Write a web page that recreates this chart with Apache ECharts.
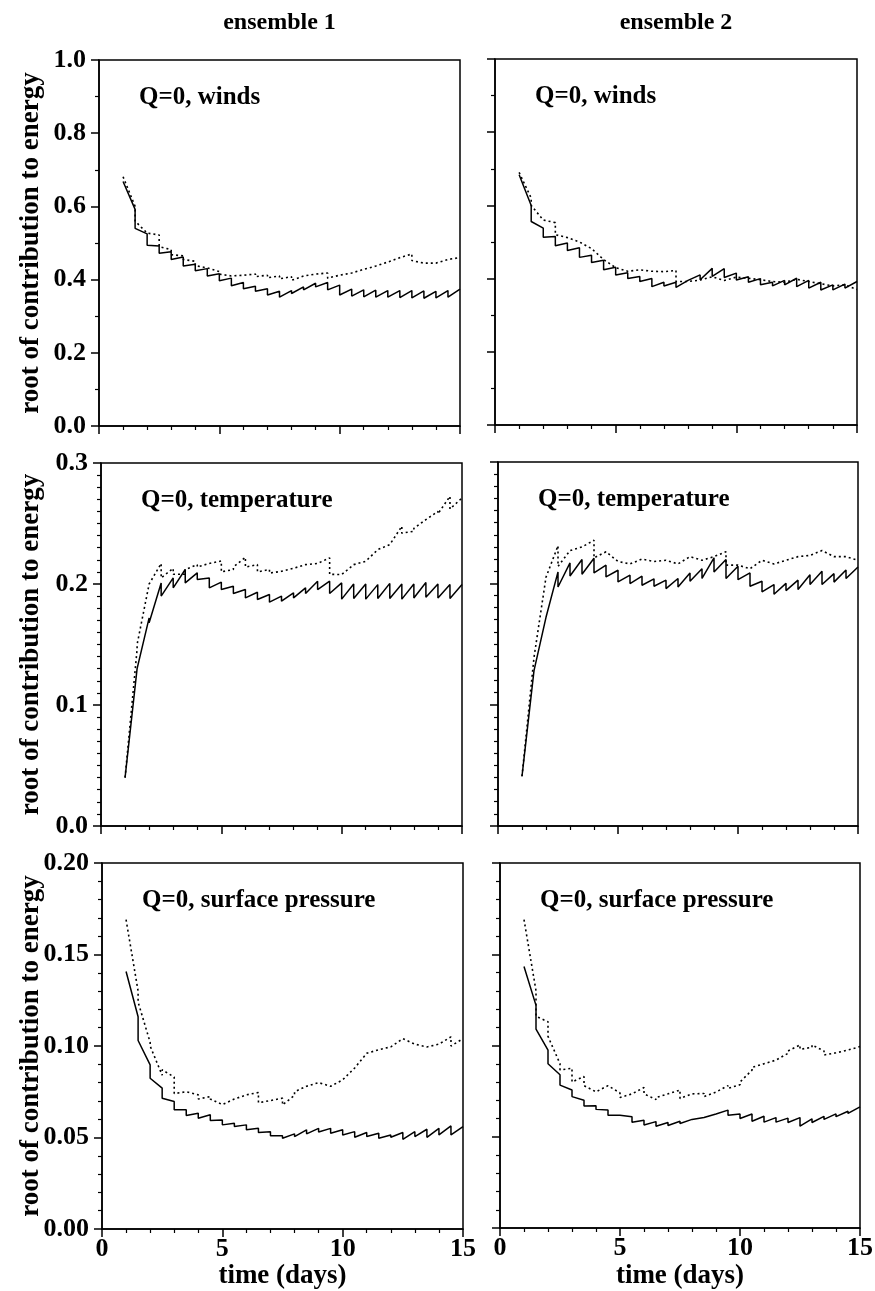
<!DOCTYPE html>
<html><head><meta charset="utf-8">
<script src="https://cdn.jsdelivr.net/npm/echarts@6/dist/echarts.min.js"></script>
<style>html,body{margin:0;padding:0;background:#fff}#c{width:875px;height:1291px}</style>
</head><body><div id="c"></div>
<script>
// half-day segments (start / end day); each curve rises/falls within a segment and jumps at its end
const segStart = [1,1.5,2,2.5,3,3.5,4,4.5,5,5.5,6,6.5,7,7.5,8,8.5,9,9.5,10,10.5,11,11.5,12,12.5,13,13.5,14,14.5];
const segEnd   = [1.5,2,2.5,3,3.5,4,4.5,5,5.5,6,6.5,7,7.5,8,8.5,9,9.5,10,10.5,11,11.5,12,12.5,13,13.5,14,14.5,15];

// Q=0, winds — ensemble 1
const w1SolidS = [0.668,0.540,0.494,0.472,0.455,0.437,0.424,0.410,0.397,0.383,0.375,0.368,0.358,0.352,0.362,0.372,0.380,0.372,0.358,0.355,0.353,0.352,0.352,0.351,0.350,0.349,0.350,0.352];
const w1SolidE = [0.592,0.525,0.492,0.476,0.462,0.442,0.430,0.416,0.404,0.392,0.382,0.375,0.368,0.370,0.380,0.390,0.392,0.385,0.374,0.372,0.371,0.370,0.370,0.370,0.369,0.368,0.370,0.374];
const w1DotS   = [0.681,0.560,0.526,0.490,0.468,0.455,0.438,0.428,0.415,0.405,0.410,0.408,0.405,0.402,0.398,0.405,0.410,0.404,0.410,0.418,0.430,0.438,0.450,0.462,0.452,0.440,0.443,0.450];
const w1DotE   = [0.600,0.527,0.522,0.482,0.465,0.450,0.432,0.422,0.410,0.412,0.415,0.412,0.410,0.408,0.410,0.415,0.418,0.412,0.418,0.428,0.437,0.448,0.460,0.470,0.445,0.445,0.455,0.460];
// Q=0, winds — ensemble 2
const w2SolidS = [0.684,0.556,0.513,0.490,0.477,0.458,0.444,0.424,0.410,0.400,0.392,0.378,0.380,0.376,0.392,0.397,0.406,0.403,0.396,0.390,0.383,0.380,0.383,0.378,0.374,0.369,0.369,0.374];
const w2SolidE = [0.600,0.538,0.515,0.497,0.484,0.464,0.450,0.431,0.416,0.406,0.400,0.390,0.390,0.395,0.410,0.428,0.427,0.415,0.405,0.400,0.390,0.395,0.401,0.395,0.390,0.383,0.385,0.392];
const w2DotS   = [0.690,0.600,0.560,0.520,0.510,0.499,0.479,0.447,0.428,0.419,0.424,0.418,0.419,0.392,0.392,0.396,0.406,0.392,0.406,0.401,0.397,0.392,0.388,0.398,0.390,0.385,0.380,0.382];
const w2DotE   = [0.620,0.560,0.553,0.512,0.500,0.482,0.452,0.430,0.420,0.424,0.420,0.419,0.422,0.392,0.396,0.405,0.395,0.404,0.401,0.397,0.392,0.390,0.398,0.392,0.386,0.380,0.383,0.370];

// Q=0, temperature — ensemble 1
const t1SolidS = [0.040,0.130,0.168,0.190,0.1968,0.2009,0.2037,0.1968,0.1954,0.1921,0.1885,0.1872,0.185,0.1858,0.1885,0.1921,0.1954,0.1921,0.1875,0.188,0.1875,0.188,0.188,0.1875,0.1885,0.189,0.1885,0.188];
const t1SolidE = [0.130,0.172,0.2009,0.205,0.212,0.2092,0.205,0.2015,0.1982,0.1954,0.1932,0.1913,0.190,0.1927,0.1968,0.2023,0.2023,0.2009,0.200,0.200,0.1995,0.2005,0.200,0.200,0.2012,0.200,0.1995,0.1995];
const t1DotS   = [0.040,0.150,0.200,0.205,0.208,0.212,0.214,0.216,0.210,0.214,0.214,0.210,0.209,0.210,0.212,0.215,0.216,0.208,0.208,0.215,0.220,0.228,0.234,0.242,0.246,0.252,0.258,0.262];
const t1DotE   = [0.146,0.200,0.217,0.213,0.208,0.216,0.217,0.219,0.212,0.222,0.216,0.212,0.2105,0.213,0.216,0.217,0.2216,0.2078,0.216,0.2188,0.2284,0.2326,0.2477,0.2436,0.2532,0.260,0.2725,0.2711];
// Q=0, temperature — ensemble 2
const t2SolidS = [0.041,0.128,0.172,0.197,0.206,0.2075,0.2086,0.2053,0.2012,0.1998,0.1984,0.1976,0.1957,0.197,0.2017,0.204,0.2094,0.204,0.203,0.1976,0.193,0.191,0.194,0.195,0.199,0.199,0.201,0.204];
const t2SolidE = [0.128,0.172,0.2094,0.2168,0.2196,0.2207,0.215,0.2108,0.2067,0.2059,0.2037,0.2026,0.204,0.2086,0.212,0.221,0.2196,0.2141,0.2086,0.2017,0.199,0.200,0.2026,0.207,0.210,0.208,0.211,0.2135];
const t2DotS   = [0.041,0.139,0.205,0.214,0.227,0.230,0.221,0.226,0.218,0.216,0.220,0.218,0.219,0.216,0.222,0.219,0.222,0.215,0.215,0.212,0.219,0.216,0.219,0.222,0.223,0.227,0.222,0.222];
const t2DotE   = [0.139,0.205,0.231,0.227,0.230,0.2355,0.226,0.218,0.216,0.220,0.218,0.219,0.216,0.222,0.219,0.222,0.226,0.215,0.212,0.219,0.216,0.219,0.222,0.223,0.227,0.222,0.222,0.219];

// Q=0, surface pressure — ensemble 1
const p1SolidS = [0.1407,0.103,0.0824,0.0715,0.0651,0.0620,0.0605,0.0593,0.0569,0.0560,0.0542,0.0527,0.0509,0.0496,0.0505,0.0520,0.0530,0.0523,0.0514,0.0501,0.0505,0.0496,0.0501,0.0490,0.0505,0.0501,0.0514,0.0514];
const p1SolidE = [0.116,0.0897,0.0770,0.0697,0.0651,0.0633,0.0624,0.0596,0.0578,0.0569,0.0550,0.0532,0.0510,0.0520,0.0542,0.0550,0.0550,0.0542,0.0532,0.0527,0.0523,0.0514,0.0527,0.0532,0.0545,0.0550,0.0563,0.0560];
const p1DotS   = [0.169,0.124,0.100,0.087,0.074,0.0745,0.071,0.071,0.0685,0.0715,0.074,0.069,0.0702,0.0678,0.075,0.078,0.081,0.079,0.0815,0.089,0.097,0.098,0.100,0.103,0.100,0.100,0.102,0.100];
const p1DotE   = [0.130,0.102,0.084,0.083,0.075,0.0733,0.0724,0.068,0.071,0.0733,0.0746,0.0702,0.0715,0.073,0.078,0.080,0.078,0.0815,0.088,0.096,0.098,0.0995,0.104,0.101,0.0995,0.101,0.105,0.104];
// Q=0, surface pressure — ensemble 2
const p2SolidS = [0.1433,0.109,0.090,0.0783,0.072,0.0668,0.065,0.0618,0.061,0.058,0.0564,0.0558,0.0562,0.0573,0.0585,0.060,0.0615,0.0618,0.060,0.0585,0.058,0.058,0.0578,0.0558,0.0578,0.0595,0.061,0.0628];
const p2SolidE = [0.122,0.0975,0.084,0.0756,0.070,0.067,0.0646,0.0618,0.061,0.059,0.0583,0.0578,0.0585,0.0595,0.0605,0.0625,0.0646,0.0625,0.0625,0.0612,0.0605,0.0602,0.0605,0.0598,0.0612,0.0625,0.064,0.0664];
const p2DotS   = [0.169,0.116,0.105,0.0866,0.080,0.078,0.0746,0.077,0.0715,0.074,0.0735,0.0715,0.0735,0.071,0.073,0.072,0.0755,0.0765,0.080,0.088,0.090,0.093,0.097,0.0979,0.1003,0.0948,0.096,0.098];
const p2DotE   = [0.130,0.113,0.090,0.0875,0.083,0.0746,0.078,0.074,0.0735,0.077,0.0704,0.0735,0.0756,0.0735,0.0737,0.0745,0.078,0.0785,0.0865,0.090,0.092,0.0957,0.1003,0.099,0.097,0.096,0.0975,0.0994];

// axis ticks and texts
const xTickLabels = [0, 5, 10, 15];
const columnTitles = ['ensemble 1', 'ensemble 2'];
const panelLabels = ['Q=0, winds', 'Q=0, temperature', 'Q=0, surface pressure'];
const yAxisTitle = 'root of contribution to energy';
const xAxisTitle = 'time (days)';

function saw(s, e) {
  const d = [];
  for (let k = 0; k < s.length; k++) {
    d.push([segStart[k], s[k]]);
    d.push([segEnd[k], e[k]]);
  }
  return d;
}

const FONT = 'Liberation Serif';
const panels = [
  {g:{left:99, top:60, width:361, height:366}, row:0, col:0, ymax:1.0, yint:0.2, ymin:2, dec:1, solid:saw(w1SolidS,w1SolidE), dot:saw(w1DotS,w1DotE)},
  {g:{left:495, top:59, width:362, height:366}, row:0, col:1, ymax:1.0, yint:0.2, ymin:2, dec:1, solid:saw(w2SolidS,w2SolidE), dot:saw(w2DotS,w2DotE)},
  {g:{left:101, top:463, width:361, height:363}, row:1, col:0, ymax:0.3, yint:0.1, ymin:10, dec:1, solid:saw(t1SolidS,t1SolidE), dot:saw(t1DotS,t1DotE)},
  {g:{left:498, top:462, width:360, height:364}, row:1, col:1, ymax:0.3, yint:0.1, ymin:10, dec:1, solid:saw(t2SolidS,t2SolidE), dot:saw(t2DotS,t2DotE)},
  {g:{left:102, top:863, width:361, height:366}, row:2, col:0, ymax:0.2, yint:0.05, ymin:5, dec:2, solid:saw(p1SolidS,p1SolidE), dot:saw(p1DotS,p1DotE)},
  {g:{left:500, top:863, width:360, height:365}, row:2, col:1, ymax:0.2, yint:0.05, ymin:5, dec:2, solid:saw(p2SolidS,p2SolidE), dot:saw(p2DotS,p2DotE)}
];

const grid = [], xAxis = [], yAxis = [], series = [], graphic = [];
panels.forEach((p, i) => {
  grid.push(Object.assign({show:true, borderColor:'#000', borderWidth:1.5, containLabel:false, outerBoundsMode:'none'}, p.g));
  xAxis.push({
    gridIndex:i, type:'value', min:0, max:15, interval:5,
    axisLine:{show:true, onZero:false, lineStyle:{color:'#000', width:1.5}},
    axisTick:{show:true, length:8, lineStyle:{color:'#000', width:1.5}},
    minorTick:{show:true, splitNumber:5, length:4, lineStyle:{color:'#000', width:1.2}},
    splitLine:{show:false}, minorSplitLine:{show:false},
    axisLabel:{show:p.row===2, showMinLabel:true, showMaxLabel:true, color:'#000', fontSize:26, fontWeight:'bold', fontFamily:FONT, margin:7,
      formatter:(v)=> xTickLabels.indexOf(v) >= 0 ? String(v) : ''}
  });
  yAxis.push({
    gridIndex:i, type:'value', min:0, max:p.ymax, interval:p.yint,
    axisLine:{show:true, onZero:false, lineStyle:{color:'#000', width:1.5}},
    axisTick:{show:true, length:8, lineStyle:{color:'#000', width:1.5}},
    minorTick:{show:true, splitNumber:p.ymin, length:4, lineStyle:{color:'#000', width:1.2}},
    splitLine:{show:false}, minorSplitLine:{show:false},
    axisLabel:{show:p.col===0, showMinLabel:true, showMaxLabel:true, color:'#000', fontSize:26, fontWeight:'bold', fontFamily:FONT, margin:13,
      formatter:(v)=> v.toFixed(p.dec)}
  });
  series.push({type:'line', xAxisIndex:i, yAxisIndex:i, data:p.solid, symbol:'none', showSymbol:false,
    lineStyle:{color:'#000', width:1.5, type:'solid'}, animation:false, silent:true});
  series.push({type:'line', xAxisIndex:i, yAxisIndex:i, data:p.dot, symbol:'none', showSymbol:false,
    lineStyle:{color:'#000', width:1.6, type:[2,3]}, animation:false, silent:true});
  graphic.push({type:'text', x:p.g.left + 40, y:p.g.top + 38,
    style:{text:panelLabels[p.row], fill:'#000', font:'bold 25px "' + FONT + '"', textAlign:'left', textVerticalAlign:'middle'}});
  if (p.col === 0) {
    graphic.push({type:'text', x:31, y:p.g.top + p.g.height/2, rotation:Math.PI/2,
      style:{text:yAxisTitle, fill:'#000', font:'bold 27px "' + FONT + '"', textAlign:'center', textVerticalAlign:'middle'}});
  }
  if (p.row === 0) {
    graphic.push({type:'text', x:p.g.left + p.g.width/2, y:23,
      style:{text:columnTitles[p.col], fill:'#000', font:'bold 24px "' + FONT + '"', textAlign:'center', textVerticalAlign:'middle'}});
  }
  if (p.row === 2) {
    graphic.push({type:'text', x:p.g.left + p.g.width/2, y:1276,
      style:{text:xAxisTitle, fill:'#000', font:'bold 27px "' + FONT + '"', textAlign:'center', textVerticalAlign:'middle'}});
  }
});

const chart = echarts.init(document.getElementById('c'), null, {renderer:'canvas', width:875, height:1291});
chart.setOption({
  animation:false,
  backgroundColor:'#fff',
  textStyle:{fontFamily:FONT},
  grid, xAxis, yAxis, series, graphic
});
</script>
</body></html>
